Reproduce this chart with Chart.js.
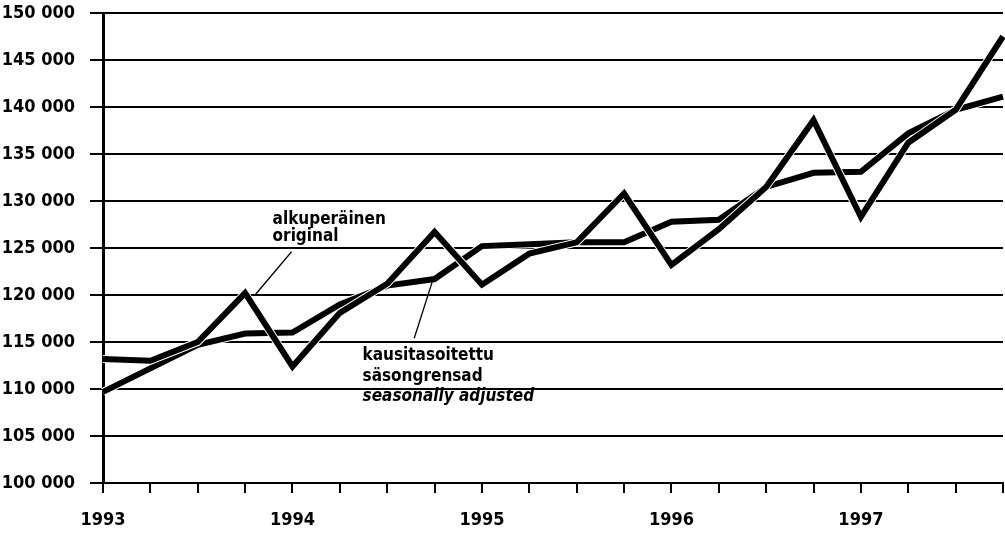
<!DOCTYPE html>
<html>
<head>
<meta charset="utf-8">
<script src="https://cdn.jsdelivr.net/npm/chart.js@4"></script>
<style>
  html, body { margin: 0; padding: 0; background: #ffffff; }
  #wrap { width: 1005px; height: 535px; position: relative; }
</style>
</head>
<body>
<div id="wrap"><canvas id="c" width="1005" height="535"></canvas></div>
<script>
// ---- data ----
const quarters = [
  '1993 I','1993 II','1993 III','1993 IV',
  '1994 I','1994 II','1994 III','1994 IV',
  '1995 I','1995 II','1995 III','1995 IV',
  '1996 I','1996 II','1996 III','1996 IV',
  '1997 I','1997 II','1997 III','1997 IV'
];
const original = [
  113200, 113000, 115000, 120200,
  112400, 118100, 121200, 126700,
  121100, 124400, 125600, 130800,
  123200, 127000, 131500, 138600,
  128300, 136200, 139700, 147500
];
const seasonallyAdjusted = [
  109700, 112200, 114700, 115900,
  116000, 119000, 121000, 121700,
  125200, 125400, 125600, 125600,
  127800, 128000, 131500, 133000,
  133100, 137200, 139700, 141100
];
const yTicks = { min: 100000, max: 150000, step: 5000 };
const labelOriginal = ['alkuperäinen', 'original'];
const labelAdjusted = ['kausitasoitettu', 'säsongrensad', 'seasonally adjusted'];

// ---- style ----
const FONT = '"Liberation Sans Narrow", "DejaVu Sans Condensed", "Roboto Condensed", Arial, sans-serif';

function fmt(v) {
  return String(v).replace(/\B(?=(\d{3})+(?!\d))/g, ' ');
}

const annotations = {
  id: 'annotations',
  afterDatasetsDraw(chart) {
    const ctx = chart.ctx;
    const x = chart.scales.x, y = chart.scales.y;
    ctx.save();
    ctx.fillStyle = '#000';
    ctx.strokeStyle = '#000';
    ctx.lineWidth = 1.3;
    ctx.textAlign = 'left';
    ctx.textBaseline = 'alphabetic';
    ctx.font = 'bold 17px ' + FONT;
    // original label
    const ox = x.getPixelForValue(3.58);
    ctx.fillText(labelOriginal[0], ox, y.getPixelForValue(128900) + 13);
    ctx.fillText(labelOriginal[1], ox, y.getPixelForValue(127100) + 13);
    ctx.beginPath();
    ctx.moveTo(x.getPixelForValue(3.98), y.getPixelForValue(124600));
    ctx.lineTo(x.getPixelForValue(3.21), y.getPixelForValue(120000));
    ctx.stroke();
    // seasonally adjusted label
    const sx = x.getPixelForValue(5.48);
    ctx.fillText(labelAdjusted[0], sx, y.getPixelForValue(114400) + 12);
    ctx.fillText(labelAdjusted[1], sx, y.getPixelForValue(112100) + 12);
    ctx.font = 'italic bold 17px ' + FONT;
    ctx.fillText(labelAdjusted[2], sx, y.getPixelForValue(110000) + 12);
    ctx.beginPath();
    ctx.moveTo(x.getPixelForValue(6.57), y.getPixelForValue(115400));
    ctx.lineTo(x.getPixelForValue(6.95), y.getPixelForValue(121400));
    ctx.stroke();
    ctx.restore();
  }
};

const lineBase = {
  pointRadius: 0,
  pointHoverRadius: 0,
  pointHitRadius: 0,
  tension: 0,
  fill: false,
  clip: false,
  borderJoinStyle: 'miter',
  borderCapStyle: 'butt'
};

new Chart(document.getElementById('c'), {
  type: 'line',
  data: {
    labels: quarters,
    datasets: [
      Object.assign({}, lineBase, { label: 'alkuperäinen', data: original, borderColor: '#000', borderWidth: 6, order: 0 }),
      Object.assign({}, lineBase, { label: 'alkuperäinen halo', data: original, borderColor: '#fff', borderWidth: 8, order: 1 }),
      Object.assign({}, lineBase, { label: 'kausitasoitettu', data: seasonallyAdjusted, borderColor: '#000', borderWidth: 6, order: 2 }),
      Object.assign({}, lineBase, { label: 'kausitasoitettu halo', data: seasonallyAdjusted, borderColor: '#fff', borderWidth: 8, order: 3 })
    ]
  },
  options: {
    responsive: false,
    animation: false,
    events: [],
    layout: { autoPadding: false, padding: { top: 13, right: 2, left: 0, bottom: 0 } },
    plugins: { legend: { display: false }, tooltip: { enabled: false } },
    scales: {
      x: {
        type: 'category',
        offset: false,
        afterFit(s) { s.height = 52; s.paddingLeft = 0; s.paddingRight = 0; },
        grid: { display: true, drawOnChartArea: false, drawTicks: true, tickLength: 10, color: '#000', lineWidth: 2 },
        border: { display: true, color: '#000', width: 2 },
        ticks: {
          autoSkip: false,
          maxRotation: 0,
          padding: 17,
          color: '#000',
          font: { family: FONT, size: 18, weight: 'bold' },
          callback(v, i) { return i % 4 === 0 ? quarters[i].split(' ')[0] : ''; }
        }
      },
      y: {
        min: yTicks.min,
        max: yTicks.max,
        afterFit(s) { s.width = 103; s.paddingTop = 0; s.paddingBottom = 0; },
        grid: { display: true, color: '#000', lineWidth: 2, tickLength: 13 },
        border: { display: true, color: '#000', width: 3 },
        ticks: {
          stepSize: yTicks.step,
          padding: 15,
          color: '#000',
          font: { family: FONT, size: 18, weight: 'bold' },
          callback(v) { return fmt(v); }
        }
      }
    }
  },
  plugins: [annotations]
});
</script>
</body>
</html>
